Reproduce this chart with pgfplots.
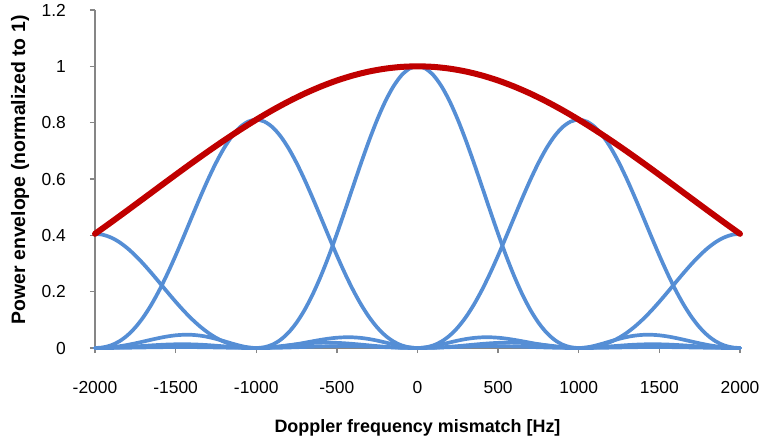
\documentclass[border=0pt]{standalone}
\usepackage{pgfplots}
\usepackage{pgfplotstable}
\pgfplotsset{compat=1.18}
\usepackage{fontspec}
\setmainfont{Liberation Sans}
\definecolor{fbblue}{RGB}{85,142,213}
\definecolor{envred}{RGB}{192,0,0}
\definecolor{axgray}{RGB}{134,134,134}

\pgfplotstableread{
f bm2 bm1 b0 b1 b2
-2000 0.40529 0 0 0 0
-1950 0.40196 0.00223 0.00065 0.00023 0.00006
-1900 0.39213 0.00968 0.00268 0.00093 0.00026
-1850 0.37616 0.02343 0.00610 0.00208 0.00057
-1800 0.35468 0.04434 0.01080 0.00362 0.00098
-1750 0.32851 0.07300 0.01654 0.00543 0.00146
-1700 0.29863 0.10970 0.02295 0.00737 0.00196
-1650 0.26613 0.15432 0.02955 0.00928 0.00245
-1600 0.23214 0.20635 0.03580 0.01099 0.00287
-1550 0.19782 0.26485 0.04114 0.01232 0.00318
-1500 0.16426 0.32851 0.04503 0.01314 0.00335
-1450 0.13243 0.39564 0.04701 0.01335 0.00337
-1400 0.10317 0.46428 0.04676 0.01290 0.00321
-1350 0.07716 0.53225 0.04414 0.01181 0.00291
-1300 0.05485 0.59726 0.03924 0.01016 0.00247
-1250 0.03650 0.65702 0.03242 0.00811 0.00194
-1200 0.02217 0.70936 0.02431 0.00586 0.00139
-1150 0.01171 0.75232 0.01579 0.00366 0.00085
-1100 0.00484 0.78425 0.00800 0.00178 0.00041
-1050 0.00111 0.80392 0.00225 0.00048 0.00011
-1000 0 0.81057 0 0 0
-950 0.00091 0.80392 0.00275 0.00053 0.00012
-900 0.00324 0.78425 0.01195 0.00217 0.00047
-850 0.00640 0.75232 0.02890 0.00495 0.00104
-800 0.00985 0.70936 0.05470 0.00876 0.00181
-750 0.01314 0.65702 0.09006 0.01341 0.00272
-700 0.01590 0.59726 0.13534 0.01860 0.00369
-650 0.01789 0.53225 0.19039 0.02395 0.00464
-600 0.01895 0.46428 0.25457 0.02902 0.00549
-550 0.01905 0.39564 0.32675 0.03335 0.00616
-500 0.01825 0.32851 0.40529 0.03650 0.00657
-450 0.01667 0.26485 0.48811 0.03811 0.00667
-400 0.01451 0.20635 0.57279 0.03790 0.00645
-350 0.01197 0.15432 0.65664 0.03577 0.00590
-300 0.00930 0.10970 0.73684 0.03181 0.00508
-250 0.00670 0.07300 0.81057 0.02628 0.00406
-200 0.00438 0.04434 0.87514 0.01971 0.00293
-150 0.00247 0.02343 0.92813 0.01280 0.00183
-100 0.00109 0.00968 0.96753 0.00648 0.00089
-50 0.00026 0.00223 0.99179 0.00182 0.00024
0 0 0 1 0 0
50 0.00024 0.00182 0.99179 0.00223 0.00026
100 0.00089 0.00648 0.96753 0.00968 0.00109
150 0.00183 0.01280 0.92813 0.02343 0.00247
200 0.00293 0.01971 0.87514 0.04434 0.00438
250 0.00406 0.02628 0.81057 0.07300 0.00670
300 0.00508 0.03181 0.73684 0.10970 0.00930
350 0.00590 0.03577 0.65664 0.15432 0.01197
400 0.00645 0.03790 0.57279 0.20635 0.01451
450 0.00667 0.03811 0.48811 0.26485 0.01667
500 0.00657 0.03650 0.40529 0.32851 0.01825
550 0.00616 0.03335 0.32675 0.39564 0.01905
600 0.00549 0.02902 0.25457 0.46428 0.01895
650 0.00464 0.02395 0.19039 0.53225 0.01789
700 0.00369 0.01860 0.13534 0.59726 0.01590
750 0.00272 0.01341 0.09006 0.65702 0.01314
800 0.00181 0.00876 0.05470 0.70936 0.00985
850 0.00104 0.00495 0.02890 0.75232 0.00640
900 0.00047 0.00217 0.01195 0.78425 0.00324
950 0.00012 0.00053 0.00275 0.80392 0.00091
1000 0 0 0 0.81057 0
1050 0.00011 0.00048 0.00225 0.80392 0.00111
1100 0.00041 0.00178 0.00800 0.78425 0.00484
1150 0.00085 0.00366 0.01579 0.75232 0.01171
1200 0.00139 0.00586 0.02431 0.70936 0.02217
1250 0.00194 0.00811 0.03242 0.65702 0.03650
1300 0.00247 0.01016 0.03924 0.59726 0.05485
1350 0.00291 0.01181 0.04414 0.53225 0.07716
1400 0.00321 0.01290 0.04676 0.46428 0.10317
1450 0.00337 0.01335 0.04701 0.39564 0.13243
1500 0.00335 0.01314 0.04503 0.32851 0.16426
1550 0.00318 0.01232 0.04114 0.26485 0.19782
1600 0.00287 0.01099 0.03580 0.20635 0.23214
1650 0.00245 0.00928 0.02955 0.15432 0.26613
1700 0.00196 0.00737 0.02295 0.10970 0.29863
1750 0.00146 0.00543 0.01654 0.07300 0.32851
1800 0.00098 0.00362 0.01080 0.04434 0.35468
1850 0.00057 0.00208 0.00610 0.02343 0.37616
1900 0.00026 0.00093 0.00268 0.00968 0.39213
1950 0.00006 0.00023 0.00065 0.00223 0.40196
2000 0 0 0 0 0.40529
}\bank

\pgfplotstableread{
f e
-2000 0.40529
-1900 0.44630
-1800 0.48811
-1700 0.53038
-1600 0.57279
-1500 0.61499
-1400 0.65664
-1300 0.69737
-1200 0.73684
-1100 0.77469
-1000 0.81057
-900 0.84416
-800 0.87514
-700 0.90322
-600 0.92813
-500 0.94964
-400 0.96753
-300 0.98163
-200 0.99179
-100 0.99795
0 1
100 0.99795
200 0.99179
300 0.98163
400 0.96753
500 0.94964
600 0.92813
700 0.90322
800 0.87514
900 0.84416
1000 0.81057
1100 0.77469
1200 0.73684
1300 0.69737
1400 0.65664
1500 0.61499
1600 0.57279
1700 0.53038
1800 0.48811
1900 0.44630
2000 0.40529
}\envel

\begin{document}
\begin{tikzpicture}
\begin{axis}[
  scale only axis,
  width=645bp, height=338bp,
  xmin=-2000, xmax=2000,
  ymin=0, ymax=1.2,
  axis lines*=left,
  axis line style={axgray, line width=1.5bp},
  clip=false,
  xtick={-2000,-1500,-1000,-500,0,500,1000,1500,2000},
  xticklabels={-2000,-1500,-1000,-500,0,500,1000,1500,2000},
  ytick={0,0.2,0.4,0.6,0.8,1,1.2},
  yticklabels={0,0.2,0.4,0.6,0.8,1,1.2},
  tick align=outside,
  major tick length=5bp,
  tick style={axgray, line width=1.3bp},
  xticklabel style={anchor=base, inner sep=0pt, yshift=-40bp, font=\fontsize{17.5}{19}\selectfont},
  yticklabel style={anchor=east, inner sep=0pt, xshift=-24bp, font=\fontsize{17.5}{19}\selectfont},
  xlabel={Doppler frequency mismatch [Hz]},
  ylabel={Power envelope (normalized to 1)},
  xlabel style={at={(axis description cs:0.5,-0.2494)}, anchor=base, inner sep=0pt, font=\fontsize{18}{20}\selectfont\bfseries},
  ylabel style={at={(axis description cs:-0.1163,0.527)}, anchor=center, rotate=0, inner sep=0pt, font=\fontsize{19.5}{21}\selectfont\bfseries},
]
\addplot[fbblue, line width=3.7bp, smooth, line join=round, line cap=round] table[x=f, y=bm2] {\bank};
\addplot[fbblue, line width=3.7bp, smooth, line join=round, line cap=round] table[x=f, y=bm1] {\bank};
\addplot[fbblue, line width=3.7bp, smooth, line join=round, line cap=round] table[x=f, y=b0] {\bank};
\addplot[fbblue, line width=3.7bp, smooth, line join=round, line cap=round] table[x=f, y=b1] {\bank};
\addplot[fbblue, line width=3.7bp, smooth, line join=round, line cap=round] table[x=f, y=b2] {\bank};
\addplot[envred, line width=6bp, smooth, line join=round, line cap=round] table[x=f, y=e] {\envel};
\coordinate (sw) at (rel axis cs:0,0);
\end{axis}
\pgfresetboundingbox
\path (sw) ++(-95bp,-92bp) rectangle ++(759bp,440bp);
\end{tikzpicture}
\end{document}
